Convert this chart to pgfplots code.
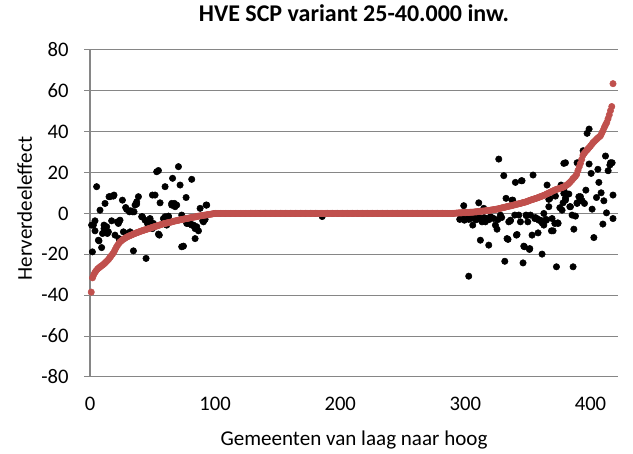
\documentclass[border=0pt]{standalone}
\usepackage{fontspec}
\setmainfont{Carlito}
\usepackage{pgfplots}
\pgfplotsset{compat=1.18}
\definecolor{scpred}{HTML}{C0504D}
\definecolor{gridgray}{HTML}{868686}

\begin{document}
\begin{tikzpicture}
\begin{axis}[
  name=ax,
  scale only axis,
  width=396pt, height=245.25pt,
  xmin=0, xmax=422, ymin=-80, ymax=80,
  xtick={0,100,200,300,400},
  ytick={-80,-60,-40,-20,0,20,40,60,80},
  axis x line*=bottom, axis y line*=left,
  axis line style={gridgray, line width=0.8pt},
  ymajorgrids, grid style={gridgray, line width=0.8pt},
  tick align=outside, major tick length=4.5pt,
  xtick style={draw=none}, ytick style={gridgray, line width=0.8pt},
  /pgf/number format/assume math mode=true,
  /pgf/number format/1000 sep={},
  tick label style={font=\fontsize{15.5}{17}\selectfont},
  xticklabel style={yshift=-7pt},
  yticklabel style={xshift=-8pt},
  title={HVE SCP variant 25-40.000 inw.},
  title style={font=\bfseries\fontsize{18}{20}\selectfont, at={(axis description cs:0.5,1.0887)}, anchor=center},
  xlabel={Gemeenten van laag naar hoog},
  xlabel style={font=\fontsize{15.8}{17}\selectfont, at={(axis description cs:0.5,-0.193)}, anchor=center},
  ylabel={Herverdeeleffect},
  ylabel style={font=\fontsize{15.8}{17}\selectfont, at={(axis description cs:-0.124,0.515)}, anchor=center},
]
% HVE (zwart)
\addplot[only marks, mark=*, mark size=2.4pt, black] coordinates {
(1.9,-18.8) (1.3,-5.7) (2.7,-5.7) (4,-3.6) (4,-8.5) (5.3,13.1) (8,1.6) (6.7,-13.1) (7.2,-13.4)
(9.3,-16.7) (10,-9.8) (11.2,-5.7) (11.2,-7.4) (12,4.9) (13.3,-6.5) (13.9,-9.8) (14.7,-9) (15.2,8.2)
(16,8.2) (17.3,-3.6) (18.7,8.5) (19.2,9) (20,-10.6) (21.9,-4.1) (22.7,-4.9) (23.2,-12.3) (24,-3.3)
(25.9,6.5) (26.7,-9) (28.5,2.9) (29.3,2) (29.9,-9.8) (31.5,0.8) (32,-9) (32.5,1.3) (34,0.8)
(34.7,-18.3) (35.2,0.8) (36,4.1) (37.3,5.7) (37.3,4.6) (38.7,8.2) (41.3,-1.6) (41.9,-1.6) (44,-3.3)
(44.8,-22) (45.9,-4.9) (46.7,-4.9) (48,-2.5) (48,-3.3) (49.3,-4.9) (49.9,-7.4) (49.9,9) (50.7,-4.9)
(52,9) (53.3,20.4) (54.7,21) (54.7,-10.1) (55.4,-10.6) (56,5.2) (58.7,-2.5) (60,13.1) (60,-1.6)
(61.3,-5.7) (62.7,-1.6) (62.7,-1.3) (65.3,4.1) (65.3,4.9) (66,17.2) (67.5,4.9) (68,3.3) (69.3,4.1)
(70.7,22.9) (72,13.9) (73.3,-16.3) (74.7,-16) (73.3,-0.8) (76.8,7.8) (77.3,-4.9) (77.3,-2.5)
(78.7,-4.9) (80,-4.9) (81.3,16.7) (81.3,-5.7) (82.7,-5.7) (84,-12.3) (84,-7.4) (85.3,-6.5)
(86.7,-8.5) (88,2.5) (90.1,-3.6) (90.7,-4.1) (92.8,4.1) (93.3,4.1) (92,-2.9)
(100,0) (104,0) (108,0) (112,0) (116,0) (120,0) (124,0) (128,0) (132,0) (136,0) (140,0) (144,0)
(148,0) (152,0) (156,0) (160,0) (164,0) (168,0) (172,0) (176,0) (180,0) (185.6,-1.5) (190,0)
(194,0) (198,0) (202,0) (206,0) (210,0) (214,0) (218,0) (222,0) (226,0) (230,0) (234,0) (238,0)
(242,0) (246,0) (250,0) (254,0) (258,0) (262,0) (266,0) (270,0) (274,0) (278,0) (282,0) (286,0)
(290,0)
(295.5,-2.9) (296,-2.5) (297,-2) (298.7,3.8) (299.2,-3.3) (300,-2) (301.3,-2.5) (302.7,-30.7)
(302.7,-2.9) (304,-2.5) (305.9,-5.7) (306.7,-2) (307,-2) (308,-2.9) (309,-3) (310.7,5.2) (311,-2)
(312,-13.1) (313.3,-4.1) (314.7,2.5) (315,-2) (316,-4.1) (317,-2.5) (318.7,-15.5) (319,-3) (320,-1.6)
(321,-2) (322.7,-2.5) (324,-5.7) (325.3,-7.7) (326,-3) (326.7,26.6) (328,-0.8) (329,-2) (330.7,18.5)
(331.5,-23.4) (332.5,7.4) (333.3,-12.3) (334.1,-12.7) (334.7,-4.1) (336,-3.3) (336,-3.6) (337.3,6.5)
(337.9,6.5) (339.5,-0.8) (340,15.2) (340.8,-10.6) (341.3,-10.3) (342.7,-0.8) (344,-4.1) (344.8,16)
(345.3,16) (346.1,-24.2) (346.7,-16) (347.2,-16.3) (348.5,-0.8) (348.8,-1.1) (349.9,-4.1)
(351.2,-17.6) (351.5,-17.2) (352,-0.8) (353.3,-10.6) (354.1,18.8) (355.5,-2.5) (356,-2) (357.3,-2.5)
(358.1,-9.5) (358.7,-3.3) (360,-3.3) (361.3,-19.9) (361.3,-4.6) (362.7,-5.7) (362.7,0) (364.5,-2.9)
(364.8,-3.3) (365.3,13.9) (366.7,3.3) (366.7,6.9) (367.5,7.4) (368.8,-8.5) (369.3,-2.5) (370.1,-8.5)
(371.5,-4.9) (372,8.5) (372.8,-26.1) (373.9,-4.6) (374.1,-4.9) (375.5,2.8) (376.5,13.9) (377.3,1.6)
(378.1,5.2) (378.7,9.8) (378.7,24.5) (379.2,10.6) (380,24.8) (380,7.4) (380,6.5) (382.7,9.5)
(383.5,3.3) (384,3.3) (385.3,-0.8) (386.1,-26.1) (386.7,-7.7) (388,-1.3) (389.3,24.8) (389.3,4.9)
(389.3,5.2) (390.7,8.2) (390.7,24.8) (392,6.5) (392,8.2) (393.3,6.2) (394.1,30.7) (395.2,4.9)
(396.3,11.4) (397.3,39.2) (398.9,41.3) (398.9,24.2) (400.5,19.6) (401.3,2.1) (402.7,-11.8)
(404.8,7.8) (405.9,21.6) (406.7,15.2) (408.5,10.1) (409.9,-5.2) (410.7,6.2) (412,28.1) (412.8,0.3)
(414.1,20.9) (415.5,23.7) (416,24.8) (417.3,24.8) (418,9) (418,-2.5)
};
% SCP (rood)
\addplot[only marks, mark=*, mark size=2.4pt, scpred, mark options={draw=scpred, fill=scpred}] coordinates {
(1,-38.5) (2,-31.5) (3,-30) (4,-28.8) (5,-28) (6,-27.2) (7,-26.7) (8,-26.2) (9,-25.7) (10,-25.3)
(11,-24.8) (12,-24.2) (13,-23.6) (14,-23) (15,-22.3) (16,-21.5) (17,-20.7) (18,-19.9) (19,-19) (20,-17.8)
(21,-16.6) (22,-15.6) (23,-14.7) (24,-13.9) (25,-13.4) (26,-12.9) (27,-12.5) (28,-12.1) (29,-11.7) (30,-11.4)
(31,-11.1) (32,-10.8) (33,-10.6) (34,-10.3) (35,-10) (36,-9.8) (37,-9.5) (38,-9.3) (39,-9.1) (40,-8.8)
(41,-8.6) (42,-8.4) (43,-8.2) (44,-8) (45,-7.8) (46,-7.6) (47,-7.4) (48,-7.2) (49,-7) (50,-6.8)
(51,-6.6) (52,-6.4) (53,-6.2) (54,-6) (55,-5.8) (56,-5.6) (57,-5.4) (58,-5.2) (59,-5) (60,-4.9)
(61,-4.7) (62,-4.6) (63,-4.5) (64,-4.3) (65,-4.2) (66,-4) (67,-3.8) (68,-3.7) (69,-3.5) (70,-3.4)
(71,-3.3) (72,-3.1) (73,-3) (74,-2.9) (75,-2.8) (76,-2.6) (77,-2.5) (78,-2.4) (79,-2.3) (80,-2.1)
(81,-2) (82,-1.9) (83,-1.8) (84,-1.7) (85,-1.6) (86,-1.4) (87,-1.3) (88,-1.2) (89,-1.1) (90,-1)
(91,-0.9) (92,-0.8) (93,-0.7) (94,-0.6) (95,-0.5) (96,-0.4) (97,-0.3) (98,-0.2) (99,-0.1) (100,0)
(101,0) (102,0) (103,0) (104,0) (105,0) (106,0) (107,0) (108,0) (109,0) (110,0) (111,0) (112,0)
(113,0) (114,0) (115,0) (116,0) (117,0) (118,0) (119,0) (120,0) (121,0) (122,0) (123,0) (124,0)
(125,0) (126,0) (127,0) (128,0) (129,0) (130,0) (131,0) (132,0) (133,0) (134,0) (135,0) (136,0)
(137,0) (138,0) (139,0) (140,0) (141,0) (142,0) (143,0) (144,0) (145,0) (146,0) (147,0) (148,0)
(149,0) (150,0) (151,0) (152,0) (153,0) (154,0) (155,0) (156,0) (157,0) (158,0) (159,0) (160,0)
(161,0) (162,0) (163,0) (164,0) (165,0) (166,0) (167,0) (168,0) (169,0) (170,0) (171,0) (172,0)
(173,0) (174,0) (175,0) (176,0) (177,0) (178,0) (179,0) (180,0) (181,0) (182,0) (183,0) (184,0)
(185,0) (186,0) (187,0) (188,0) (189,0) (190,0) (191,0) (192,0) (193,0) (194,0) (195,0) (196,0)
(197,0) (198,0) (199,0) (200,0) (201,0) (202,0) (203,0) (204,0) (205,0) (206,0) (207,0) (208,0)
(209,0) (210,0) (211,0) (212,0) (213,0) (214,0) (215,0) (216,0) (217,0) (218,0) (219,0) (220,0)
(221,0) (222,0) (223,0) (224,0) (225,0) (226,0) (227,0) (228,0) (229,0) (230,0) (231,0) (232,0)
(233,0) (234,0) (235,0) (236,0) (237,0) (238,0) (239,0) (240,0) (241,0) (242,0) (243,0) (244,0)
(245,0) (246,0) (247,0) (248,0) (249,0) (250,0) (251,0) (252,0) (253,0) (254,0) (255,0) (256,0)
(257,0) (258,0) (259,0) (260,0) (261,0) (262,0) (263,0) (264,0) (265,0) (266,0) (267,0) (268,0)
(269,0) (270,0) (271,0) (272,0) (273,0) (274,0) (275,0) (276,0) (277,0) (278,0) (279,0) (280,0)
(281,0) (282,0) (283,0) (284,0) (285,0) (286,0) (287,0) (288,0) (289,0) (290,0)
(291,0.1) (292,0.1) (293,0.2) (294,0.2) (295,0.3) (296,0.3) (297,0.3) (298,0.4) (299,0.4) (300,0.4)
(301,0.5) (302,0.5) (303,0.5) (304,0.6) (305,0.6) (306,0.6) (307,0.7) (308,0.8) (309,0.8) (310,0.9)
(311,1) (312,1) (313,1.1) (314,1.2) (315,1.2) (316,1.3) (317,1.4) (318,1.5) (319,1.5) (320,1.6)
(321,1.7) (322,1.8) (323,1.9) (324,2) (325,2.1) (326,2.2) (327,2.4) (328,2.5) (329,2.7) (330,2.8)
(331,3) (332,3.1) (333,3.3) (334,3.4) (335,3.6) (336,3.7) (337,3.8) (338,4) (339,4.2) (340,4.3)
(341,4.5) (342,4.6) (343,4.8) (344,4.9) (345,5.1) (346,5.3) (347,5.4) (348,5.6) (349,5.8) (350,6)
(351,6.3) (352,6.5) (353,6.7) (354,6.9) (355,7.1) (356,7.3) (357,7.5) (358,7.7) (359,8) (360,8.2)
(361,8.4) (362,8.7) (363,8.9) (364,9.2) (365,9.5) (366,9.8) (367,10.1) (368,10.4) (369,10.7) (370,11)
(371,11.3) (372,11.6) (373,11.8) (374,12) (375,12.2) (376,12.4) (377,12.6) (378,12.8) (379,13.1) (380,13.5)
(381,13.9) (382,14.3) (383,14.9) (384,15.5) (385,16.2) (386,17) (387,17.6) (388,18.2) (389,19.2) (390,21)
(391,22.8) (392,24.5) (393,26.5) (394,28.5) (395,29.4) (396,30.2) (397,30.9) (398,31.6) (399,32.3) (400,33)
(401,33.8) (402,34.6) (403,35.2) (404,35.8) (405,36.4) (406,37) (407,37.5) (408,38) (409,39.3) (410,40.5)
(411,42) (412,43.3) (413,44.5) (414,46.3) (415,48.2) (416,50.3) (417,52.3) (418,63.5)
};
\end{axis}
\path ([shift={(-67.5pt,-55.5pt)}]ax.south west) ([shift={(11.25pt,35.25pt)}]ax.north east);
\end{tikzpicture}
\end{document}
